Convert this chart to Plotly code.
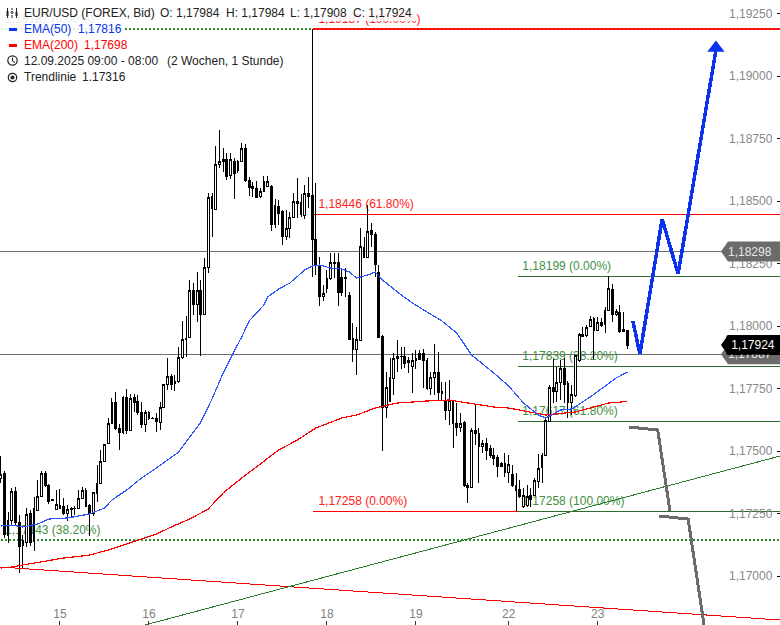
import plotly.graph_objects as go

W, H = 780, 625
bars = list(range(170))
opens = [1.17392,1.17412,1.17164,1.17224,1.17340,1.17216,1.17124,1.17136,1.17252,1.17140,
1.17264,1.17320,1.17412,1.17364,1.17304,1.17268,1.17272,1.17280,1.17252,1.17268,
1.17272,1.17272,1.17312,1.17344,1.17284,1.17252,1.17332,1.17372,1.17460,1.17532,
1.17612,1.17696,1.17592,1.17576,1.17716,1.17584,1.17716,1.17700,1.17656,1.17608,
1.17656,1.17632,1.17632,1.17616,1.17676,1.17768,1.17800,1.17772,1.17780,1.17876,
1.17952,1.17956,1.18144,1.18088,1.18144,1.18048,1.18236,1.18520,1.18468,1.18648,
1.18660,1.18668,1.18604,1.18660,1.18624,1.18660,1.18712,1.18584,1.18560,1.18552,
1.18520,1.18540,1.18560,1.18560,1.18408,1.18480,1.18460,1.18360,1.18392,1.18436,
1.18500,1.18496,1.18444,1.18532,1.18524,1.18348,1.18244,1.18120,1.18152,1.18192,
1.18256,1.18256,1.18196,1.18192,1.18124,1.17952,1.17908,1.17944,1.18316,1.18276,
1.18384,1.18368,1.18216,1.17960,1.17676,1.17700,1.17792,1.17872,1.17878,1.17880,
1.17856,1.17840,1.17864,1.17892,1.17892,1.17864,1.17752,1.17796,1.17816,1.17740,
1.17700,1.17664,1.17700,1.17612,1.17596,1.17616,1.17364,1.17356,1.17584,1.17572,
1.17520,1.17532,1.17512,1.17484,1.17476,1.17452,1.17452,1.17416,1.17408,1.17364,
1.17348,1.17280,1.17284,1.17324,1.17324,1.17380,1.17436,1.17484,1.17620,1.17756,
1.17740,1.17776,1.17832,1.17772,1.17696,1.17724,1.17864,1.17968,1.17964,1.18000,
1.18032,1.17984,1.18016,1.18008,1.18064,1.18148,1.18048,1.18056,1.17980,1.17984]
highs = [1.17480,1.17420,1.17256,1.17352,1.17356,1.17244,1.17164,1.17272,1.17264,1.17316,
1.17384,1.17420,1.17420,1.17368,1.17308,1.17344,1.17348,1.17312,1.17284,1.17276,
1.17280,1.17344,1.17356,1.17352,1.17288,1.17336,1.17444,1.17504,1.17528,1.17632,
1.17712,1.17736,1.17608,1.17720,1.17748,1.17728,1.17728,1.17724,1.17696,1.17664,
1.17660,1.17636,1.17652,1.17696,1.17768,1.17872,1.17808,1.17804,1.17916,1.18020,
1.18040,1.18184,1.18172,1.18216,1.18184,1.18272,1.18532,1.18532,1.18720,1.18784,
1.18712,1.18692,1.18692,1.18672,1.18664,1.18732,1.18728,1.18596,1.18576,1.18580,
1.18552,1.18600,1.18600,1.18564,1.18508,1.18504,1.18464,1.18464,1.18456,1.18532,
1.18592,1.18528,1.18564,1.18596,1.19187,1.18572,1.18276,1.18164,1.18224,1.18292,
1.18292,1.18292,1.18232,1.18232,1.18136,1.18012,1.17996,1.18392,1.18356,1.18484,
1.18412,1.18376,1.18244,1.17964,1.17816,1.17872,1.17892,1.17944,1.17916,1.17916,
1.17876,1.17892,1.17904,1.17904,1.17908,1.17872,1.17816,1.17928,1.17896,1.17776,
1.17776,1.17784,1.17704,1.17692,1.17652,1.17620,1.17372,1.17592,1.17684,1.17592,
1.17544,1.17552,1.17524,1.17512,1.17484,1.17456,1.17492,1.17484,1.17444,1.17412,
1.17384,1.17352,1.17364,1.17352,1.17392,1.17488,1.17492,1.17628,1.17764,1.17868,
1.17836,1.17864,1.17872,1.17780,1.17764,1.17884,1.17972,1.17996,1.18004,1.18040,
1.18036,1.18036,1.18032,1.18076,1.18199,1.18168,1.18068,1.18084,1.18056,1.17984]
lows = [1.17372,1.17152,1.17132,1.17204,1.17200,1.17012,1.17032,1.17116,1.17120,1.17100,
1.17260,1.17316,1.17356,1.17288,1.17304,1.17264,1.17268,1.17244,1.17220,1.17232,
1.17244,1.17268,1.17308,1.17276,1.17160,1.17240,1.17296,1.17368,1.17456,1.17528,
1.17608,1.17584,1.17504,1.17568,1.17568,1.17580,1.17656,1.17644,1.17592,1.17576,
1.17624,1.17628,1.17576,1.17584,1.17672,1.17744,1.17744,1.17740,1.17772,1.17868,
1.17876,1.17952,1.18044,1.18016,1.17880,1.18044,1.18212,1.18356,1.18468,1.18632,
1.18616,1.18584,1.18588,1.18508,1.18612,1.18656,1.18576,1.18520,1.18516,1.18512,
1.18512,1.18536,1.18556,1.18380,1.18392,1.18404,1.18324,1.18344,1.18352,1.18432,
1.18432,1.18436,1.18428,1.18472,1.18196,1.18204,1.18080,1.18100,1.18132,1.18184,
1.18192,1.18080,1.18120,1.18116,1.17944,1.17856,1.17804,1.17940,1.18272,1.18272,
1.18316,1.18196,1.17952,1.17500,1.17632,1.17696,1.17724,1.17816,1.17828,1.17832,
1.17812,1.17732,1.17828,1.17864,1.17752,1.17744,1.17724,1.17724,1.17704,1.17704,
1.17624,1.17604,1.17512,1.17560,1.17576,1.17356,1.17292,1.17352,1.17524,1.17372,
1.17492,1.17464,1.17472,1.17444,1.17396,1.17436,1.17396,1.17372,1.17356,1.17260,
1.17312,1.17272,1.17276,1.17276,1.17320,1.17352,1.17372,1.17480,1.17616,1.17692,
1.17696,1.17704,1.17692,1.17632,1.17644,1.17716,1.17856,1.17956,1.17956,1.17996,
1.17868,1.17980,1.17996,1.17972,1.18060,1.18016,1.18040,1.17972,1.17976,1.17908]
closes = [1.17408,1.17168,1.17224,1.17340,1.17216,1.17120,1.17144,1.17248,1.17136,1.17272,
1.17320,1.17412,1.17364,1.17300,1.17308,1.17288,1.17284,1.17252,1.17268,1.17272,
1.17270,1.17312,1.17344,1.17280,1.17252,1.17336,1.17372,1.17460,1.17528,1.17612,
1.17696,1.17592,1.17576,1.17716,1.17584,1.17712,1.17696,1.17656,1.17608,1.17656,
1.17632,1.17630,1.17620,1.17676,1.17768,1.17800,1.17768,1.17780,1.17876,1.17948,
1.17948,1.18144,1.18088,1.18144,1.18048,1.18236,1.18516,1.18472,1.18648,1.18660,
1.18668,1.18600,1.18668,1.18612,1.18660,1.18712,1.18584,1.18556,1.18552,1.18516,
1.18540,1.18580,1.18580,1.18408,1.18484,1.18452,1.18360,1.18392,1.18436,1.18500,
1.18492,1.18448,1.18532,1.18520,1.18348,1.18244,1.18120,1.18132,1.18192,1.18256,
1.18252,1.18136,1.18136,1.18196,1.17948,1.17908,1.17948,1.18320,1.18276,1.18380,
1.18368,1.18248,1.17956,1.17676,1.17756,1.17796,1.17872,1.17880,1.17880,1.17852,
1.17864,1.17864,1.17872,1.17868,1.17864,1.17752,1.17796,1.17816,1.17736,1.17732,
1.17664,1.17704,1.17612,1.17596,1.17612,1.17364,1.17356,1.17584,1.17572,1.17520,
1.17532,1.17504,1.17484,1.17472,1.17440,1.17440,1.17416,1.17448,1.17364,1.17344,
1.17320,1.17324,1.17320,1.17308,1.17384,1.17432,1.17484,1.17624,1.17756,1.17740,
1.17776,1.17832,1.17768,1.17696,1.17728,1.17884,1.17968,1.17960,1.17996,1.18028,
1.17984,1.18016,1.18004,1.18064,1.18152,1.18048,1.18060,1.17980,1.17988,1.17924]

ema50_bar = [0,3,6,10,13,18,24,28,30,34,38,42,48,51,54,57,60,63,65,67,71,72,75,78,82,84,86,89,92,94,96,99,101,103,107,111,115,119,123,127,130,133,137,141,145,147,151,154,159,163,166,169]
ema50_val = [1.17200,1.17204,1.17196,1.17208,1.17228,1.17232,1.17248,1.17272,1.17304,1.17344,1.17392,1.17432,1.17496,1.17556,1.17616,1.17708,1.17812,1.17900,1.17956,1.18020,1.18084,1.18116,1.18148,1.18172,1.18224,1.18240,1.18244,1.18232,1.18228,1.18216,1.18192,1.18204,1.18216,1.18184,1.18136,1.18092,1.18056,1.18020,1.17972,1.17884,1.17848,1.17812,1.17760,1.17692,1.17644,1.17632,1.17664,1.17668,1.17716,1.17760,1.17792,1.17816]
ema200_bar = [0,3,6,11,17,22,24,29,33,38,42,46,51,56,60,65,71,75,80,83,85,92,96,101,107,115,121,126,133,137,145,147,155,164,169]
ema200_val = [1.17032,1.17036,1.17044,1.17056,1.17072,1.17080,1.17084,1.17104,1.17124,1.17148,1.17168,1.17196,1.17228,1.17268,1.17332,1.17392,1.17460,1.17504,1.17544,1.17572,1.17592,1.17632,1.17644,1.17672,1.17692,1.17700,1.17704,1.17692,1.17676,1.17672,1.17652,1.17644,1.17656,1.17692,1.17698]

level_start = [-1, -1, 84.2, 84.2, 84.2, 139.5, 139.5, 139.5, 139.5]
level_end = [211, 211, 211, 211, 139.5, 211, 211, 211, 211]
level_price = [1.19187, 1.17143, 1.19187, 1.18446, 1.17258, 1.18199, 1.17839, 1.17617, 1.17258]
level_color = ["#2e8b2e", "#2e8b2e", "rgba(255,0,0,0.9)", "#ff0000", "#ff0000", "#2e6b2e", "#2e6b2e", "#2e6b2e", "#2e6b2e"]
level_dash = ["2px,2px", "2px,2px", "solid", "solid", "solid", "solid", "solid", "solid", "solid"]
level_width = [2, 2, 2, 1, 1, 1, 1, 1, 1]

label_text = ["1,19187 (0.00%)", "1,17143 (38.20%)", "1,19187 (100.00%)", "1,18446 (61.80%)", "1,17258 (0.00%)",
              "1,18199 (0.00%)", "1,17839 (38.20%)", "1,17617 (61.80%)", "1,17258 (100.00%)"]
label_bar = [1.2, 1.2, 85.7, 85.7, 85.7, 140.7, 140.7, 140.7, 140.7]
label_color = ["#3f8f3f", "#3f8f3f", "#ff2020", "#ff2020", "#ff2020", "#3f8f3f", "#3f8f3f", "#3f8f3f", "#3f8f3f"]

gray_levels = [1.18298, 1.17887]
red_trend_bar = [-0.2, 210.2]
red_trend_val = [1.17036, 1.16824]
green_trend_bar = [38.9, 210.2]
green_trend_val = [1.16804, 1.17480]
arrow_bar = [170.5, 172.4, 178.4, 182.7, 192.9]
arrow_val = [1.18020, 1.17888, 1.18428, 1.18208, 1.19104]
arrow_tip_bar = [192.9]
arrow_tip_val = [1.19112]
gray1_bar = [169.4, 177.2, 180.5]
gray1_val = [1.17596, 1.17584, 1.17260]
gray2_bar = [177.5, 185.4, 189.7]
gray2_val = [1.17240, 1.17228, 1.16804]

day_ticks = [16, 40, 64, 88, 112, 137, 161]
day_labels = ["15", "16", "17", "18", "19", "22", "23"]
price_ticks = [1.17, 1.1725, 1.175, 1.1775, 1.18, 1.1825, 1.185, 1.1875, 1.19, 1.1925]

x_range = [-0.18, 210.18]
y_range = [1.16804, 1.19304]
FONT = "Liberation Sans, Arial, sans-serif"
LABEL_LIFT = 0.00014

fig = go.Figure()
for v in gray_levels:
    fig.add_trace(go.Scatter(x=[-1, 211], y=[v, v], mode="lines", line=dict(color="#6e6e6e", width=1), xaxis="x", yaxis="y"))
for s, e, p, c, d, lw in zip(level_start, level_end, level_price, level_color, level_dash, level_width):
    fig.add_trace(go.Scatter(x=[s, e], y=[p, p], mode="lines", line=dict(color=c, width=lw, dash=d), xaxis="x", yaxis="y"))
for t, b, p, c in zip(label_text, label_bar, level_price, label_color):
    fig.add_trace(go.Scatter(x=[b], y=[p + LABEL_LIFT], mode="text", text=[t], textposition="top right",
                             textfont=dict(color=c, size=12, family=FONT), xaxis="x", yaxis="y"))

fig.add_trace(go.Candlestick(x=bars, open=opens, high=highs, low=lows, close=closes, whiskerwidth=0,
    increasing=dict(line=dict(color="#000000", width=1), fillcolor="#ffffff"),
    decreasing=dict(line=dict(color="#000000", width=1), fillcolor="#000000"),
    xaxis="x2", yaxis="y2"))
fig.add_trace(go.Scatter(x=red_trend_bar, y=red_trend_val, mode="lines", line=dict(color="#ff0000", width=1), xaxis="x2", yaxis="y2"))
fig.add_trace(go.Scatter(x=green_trend_bar, y=green_trend_val, mode="lines", line=dict(color="#2e7d2e", width=1), xaxis="x2", yaxis="y2"))
fig.add_trace(go.Scatter(x=ema200_bar, y=ema200_val, mode="lines", line=dict(color="#ff0000", width=1.2), xaxis="x2", yaxis="y2"))
fig.add_trace(go.Scatter(x=ema50_bar, y=ema50_val, mode="lines", line=dict(color="#2a55ff", width=1.2), xaxis="x2", yaxis="y2"))
fig.add_trace(go.Scatter(x=arrow_bar, y=arrow_val, mode="lines", line=dict(color="#0a32f0", width=3.5), xaxis="x2", yaxis="y2"))
fig.add_trace(go.Scatter(x=arrow_tip_bar, y=arrow_tip_val, mode="markers", marker=dict(symbol="triangle-up", size=15, color="#0a32f0"), xaxis="x2", yaxis="y2"))
fig.add_trace(go.Scatter(x=gray1_bar, y=gray1_val, mode="lines", line=dict(color="#6b6b6b", width=3), xaxis="x2", yaxis="y2"))
fig.add_trace(go.Scatter(x=gray2_bar, y=gray2_val, mode="lines", line=dict(color="#6b6b6b", width=3), xaxis="x2", yaxis="y2"))

def px(x):
    return x / W
def py(y):
    return 1 - y / H

shapes = []
def rect(x0, y0, x1, y1, fill, opacity=1):
    shapes.append(dict(type="rect", xref="paper", yref="paper", x0=px(x0), x1=px(x1), y0=py(y0), y1=py(y1),
                       fillcolor=fill, line=dict(width=0), opacity=opacity, layer="above"))
def seg(x0, y0, x1, y1, color="#222222", w=1):
    shapes.append(dict(type="line", xref="paper", yref="paper", x0=px(x0), x1=px(x1), y0=py(y0), y1=py(y1),
                       line=dict(color=color, width=w), layer="above"))
def circ(cx, cy, r, fill=None, color="#222222", w=1.2):
    shapes.append(dict(type="circle", xref="paper", yref="paper", x0=px(cx - r), x1=px(cx + r), y0=py(cy - r), y1=py(cy + r),
                       fillcolor=fill if fill else "rgba(0,0,0,0)", line=dict(color=color, width=w), layer="above"))

rect(0, 5, 416, 21, "#ffffff", 0.85)
rect(0, 21, 125, 37, "#ffffff", 0.85)
rect(0, 37, 128, 53, "#ffffff", 0.85)
rect(0, 53, 285, 69, "#ffffff", 0.85)
rect(0, 69, 127, 85, "#ffffff", 0.85)
seg(7.5, 8, 7.5, 18); rect(6.5, 11, 8.5, 16, "#222222")
seg(12, 8, 12, 18); rect(11, 10, 13, 15, "#ffffff"); circ(12, 12.5, 1, None, "#222222", 1)
seg(16.5, 8, 16.5, 18); rect(15.5, 12, 17.5, 16, "#222222")
rect(9, 28, 17, 31, "#0a32f0")
rect(9, 44, 17, 47, "#ff0000")
circ(12.5, 60.5, 4.7)
seg(12.5, 57.5, 12.5, 61); seg(12.5, 61, 15, 62.5)
circ(12.5, 77.5, 4.2)
circ(12.5, 77.5, 1.8, "#222222", "#222222", 0.5)

def tag(price, color):
    shapes.append(dict(type="path", xref="paper", yref="y", xsizemode="pixel", ysizemode="pixel", xanchor=1, yanchor=price,
                       path="M 0 10 L -52 10 L -59 0 L -52 -10 L 0 -10 Z", fillcolor=color, line=dict(width=0), layer="above"))
tag(1.18298, "#6b6b6b")
tag(1.17887, "#6b6b6b")
tag(1.17924, "#000000")

def label(x, y, text, color="#222222", **kw):
    return dict(xref="paper", yref="paper", x=px(x), y=py(y), text=text, showarrow=False, xanchor="left", yanchor="middle",
                font=dict(family=FONT, size=12, color=color), align="left", borderpad=0, **kw)

annotations = [
    label(23, 13, "EUR/USD (FOREX, Bid)"), label(159, 13, "O: 1,17984"), label(225, 13, "H: 1,17984"),
    label(289, 13, "L: 1,17908"), label(352, 13, "C: 1,17924"),
    label(23, 29, "EMA(50)", "#0a32f0"), label(77, 29, "1,17816", "#0a32f0"),
    label(23, 45, "EMA(200)", "#ff0000"), label(83, 45, "1,17698", "#ff0000"),
    label(23, 61, "12.09.2025 09:00 - 08:00"), label(166, 61, "(2 Wochen, 1 Stunde)"),
    label(23, 77, "Trendlinie"), label(81, 77, "1.17316"),
]
def tag_text(price, text, color, bg=None):
    kw = dict(bgcolor=bg, width=52, height=18) if bg else {}
    return dict(xref="paper", yref="y", x=1, y=price, text=text, showarrow=False, xanchor="right", yanchor="middle",
                xshift=-7, font=dict(family=FONT, size=12, color=color), align="center", borderpad=0, **kw)
annotations += [tag_text(1.18298, "1,18298", "#e6e6e6"), tag_text(1.17887, "1,17887", "#e6e6e6"),
                dict(tag_text(1.17924, "1,17924", "#ffffff", "#000000"), xshift=0)]

fig.update_layout(
    width=W, height=H, margin=dict(l=0, r=0, t=0, b=0), showlegend=False,
    paper_bgcolor="#ffffff", plot_bgcolor="#ffffff", separators=",.",
    font=dict(family=FONT, size=12),
    shapes=shapes, annotations=annotations,
    xaxis=dict(range=x_range, tickvals=day_ticks, ticktext=day_labels, ticks="inside", ticklen=4, tickcolor="#333333",
               ticklabelposition="inside", tickfont=dict(color="#808080", size=12, family=FONT),
               showgrid=False, zeroline=False, showline=False, fixedrange=True, rangeslider=dict(visible=False)),
    yaxis=dict(range=y_range, side="right", tickvals=price_ticks, tickformat=".5f", ticks="inside", ticklen=3, tickcolor="#000000",
               ticklabelposition="inside", ticklabelstandoff=4, tickfont=dict(color="#888888", size=12, family=FONT),
               showgrid=False, zeroline=False, showline=False, fixedrange=True),
    xaxis2=dict(range=x_range, overlaying="x", anchor="y2", visible=False, rangeslider=dict(visible=False), fixedrange=True),
    yaxis2=dict(range=y_range, overlaying="y", anchor="x2", side="right", visible=False, fixedrange=True),
)
POST = """
document.body.style.margin='0';document.body.style.overflow='hidden';
function crisp(){
  document.querySelectorAll('.boxlayer path, .subplot.xy .scatterlayer .js-line').forEach(function(p){p.style.shapeRendering='crispEdges';});
}
crisp();setTimeout(crisp,0);setTimeout(crisp,100);
"""
fig.write_html("out.html", config=dict(displayModeBar=False), post_script=POST)
